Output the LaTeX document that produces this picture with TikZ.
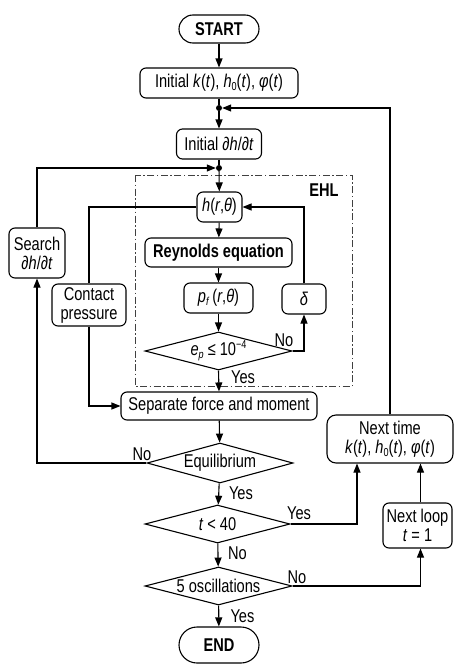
\documentclass[tikz,border=0pt]{standalone}
\usepackage{fontspec}
\setmainfont[FakeStretch=0.79]{Liberation Sans}
\usetikzlibrary{arrows.meta,shapes.geometric}
\newcommand\dn[1]{\raisebox{-0.3ex}{\fontsize{11.5}{11.5}\selectfont #1}}
\newcommand\upx[1]{\raisebox{0.75ex}{\fontsize{11.5}{11.5}\selectfont #1}}
\begin{document}
\begin{tikzpicture}[x=1pt,y=-1pt,
  every node/.style={font=\fontsize{18.5}{20}\selectfont, inner sep=0pt},
  box/.style={draw, line width=1.1pt, rounded corners=6pt, align=center},
  term/.style={draw, line width=1.1pt, rounded corners=14pt, font=\fontsize{18.5}{20}\selectfont\bfseries},
  dia/.style={draw, line width=1.1pt, diamond},
  dot/.style={circle, fill, minimum size=6pt},
  lbl/.style={font=\fontsize{18.5}{20}\selectfont},
  ln/.style={line width=1.1pt},
  arr/.style={line width=1.1pt, -{Triangle[length=9pt,width=7pt]}},
  ehl/.style={draw=black!75, line width=0.9pt, dash pattern=on 7pt off 2.5pt on 1.5pt off 2.5pt}
]
\useasboundingbox (0,0) rectangle (454,664);
% EHL frame
\draw[ehl] (135,175) rectangle (352,386);
\node[lbl, font=\fontsize{18.5}{20}\selectfont\bfseries] (ehllbl) at (324,190) {EHL};
% nodes
\node[term, minimum width=80pt, minimum height=28pt] (start) at (219,29) {START};
\node[box, minimum width=158pt, minimum height=30pt] (init) at (219,83) {Initial \textit{k}(\textit{t}), \textit{h}\dn{0}(\textit{t}), \textit{φ}(\textit{t})};
\node[dot] (d1) at (219,108) {};
\node[box, minimum width=85pt, minimum height=30pt] (initdh) at (219,144) {Initial \textit{∂h}/\textit{∂t}};
\node[dot] (d2) at (219,168) {};
\node[box, minimum width=45pt, minimum height=30pt] (h) at (219.5,207) {\textit{h}(\textit{r},\textit{θ})};
\node[box, minimum width=147pt, minimum height=29pt, font=\fontsize{18.5}{20}\selectfont\bfseries] (rey) at (218.5,252.5) {Reynolds equation};
\node[box, minimum width=69pt, minimum height=30pt] (pf) at (218.5,298) {\textit{p}\dn{\textit{f}}\,(\textit{r},\textit{θ})};
\node[dia, minimum width=147pt, minimum height=38pt] (ep) at (218.5,351) {\makebox[0pt]{\textit{e}\dn{\textit{p}} ≤ 10\upx{−4}}};
\node[box, minimum width=44pt, minimum height=30pt] (delta) at (304,299) {\textit{δ}};
\node[box, minimum width=196pt, minimum height=28pt] (sep) at (219,406) {Separate force and moment};
\node[dia, minimum width=146pt, minimum height=40pt] (eq) at (220,463) {\makebox[0pt]{Equilibrium}};
\node[dia, minimum width=145pt, minimum height=38pt] (t40) at (217.5,524) {\makebox[0pt]{\textit{t} < 40}};
\node[dia, minimum width=147pt, minimum height=38pt] (osc) at (218.5,586) {\makebox[0pt]{5 oscillations}};
\node[term, minimum width=80pt, minimum height=36pt, rounded corners=18pt] (end) at (219,645) {END};
\node[box, minimum width=56pt, minimum height=50pt] (search) at (37,253) {Search\\[-1pt]\textit{∂h}/\textit{∂t}};
\node[box, minimum width=74pt, minimum height=42pt] (contact) at (89,305) {Contact\\[-1pt]pressure};
\node[box, minimum width=126pt, minimum height=48pt, rounded corners=9pt] (nexttime) at (390,439) {Next time\\[-1pt]\textit{k}(\textit{t}), \textit{h}\dn{0}(\textit{t}), \textit{φ}(\textit{t})};
\node[box, minimum width=69pt, minimum height=45pt] (nextloop) at (417.5,525.5) {Next loop\\[-1pt]\textit{t} = 1};
% connectors
\draw[arr] (start) -- (init);
\draw[ln] (init) -- (d1);
\draw[arr] (d1) -- (initdh);
\draw[ln] (initdh) -- (d2);
\draw[arr] (d2) -- (h);
\draw[arr] (search.north) |- (d2);
\draw[arr] (nexttime.north) |- (d1);
\draw[arr] (h) -- (rey);
\draw[arr] (rey) -- (pf);
\draw[arr] (pf) -- (ep);
\draw[arr] (ep.south) -- (sep.north);
\draw[arr] (ep.east) -| (delta.south);
\draw[arr] (delta.north) |- (h.east);
\draw[ln] (h.west) -| (contact.north);
\draw[arr] (contact.south) |- (sep.west);
\draw[arr] (sep) -- (eq);
\draw[arr] (eq.west) -| (search.south);
\draw[arr] (eq) -- (t40);
\draw[arr] (t40.east) -| ([xshift=-33pt]nexttime.south);
\draw[arr] (t40) -- (osc);
\draw[arr] (osc.east) -| ([xshift=3pt]nextloop.south);
\draw[arr] ([xshift=3pt]nextloop.north) -- ([xshift=30.5pt]nexttime.south);
\draw[arr] (osc) -- (end);
% labels
\node[lbl] (l1) at (284,340) {No};
\node[lbl] (l2) at (243,377) {Yes};
\node[lbl] (l3) at (142,454) {No};
\node[lbl] (l4) at (241,493) {Yes};
\node[lbl] (l5) at (299,513) {Yes};
\node[lbl] (l6) at (237.5,553) {No};
\node[lbl] (l7) at (297,577) {No};
\node[lbl] (l8) at (242.5,616) {Yes};
\end{tikzpicture}
\end{document}
